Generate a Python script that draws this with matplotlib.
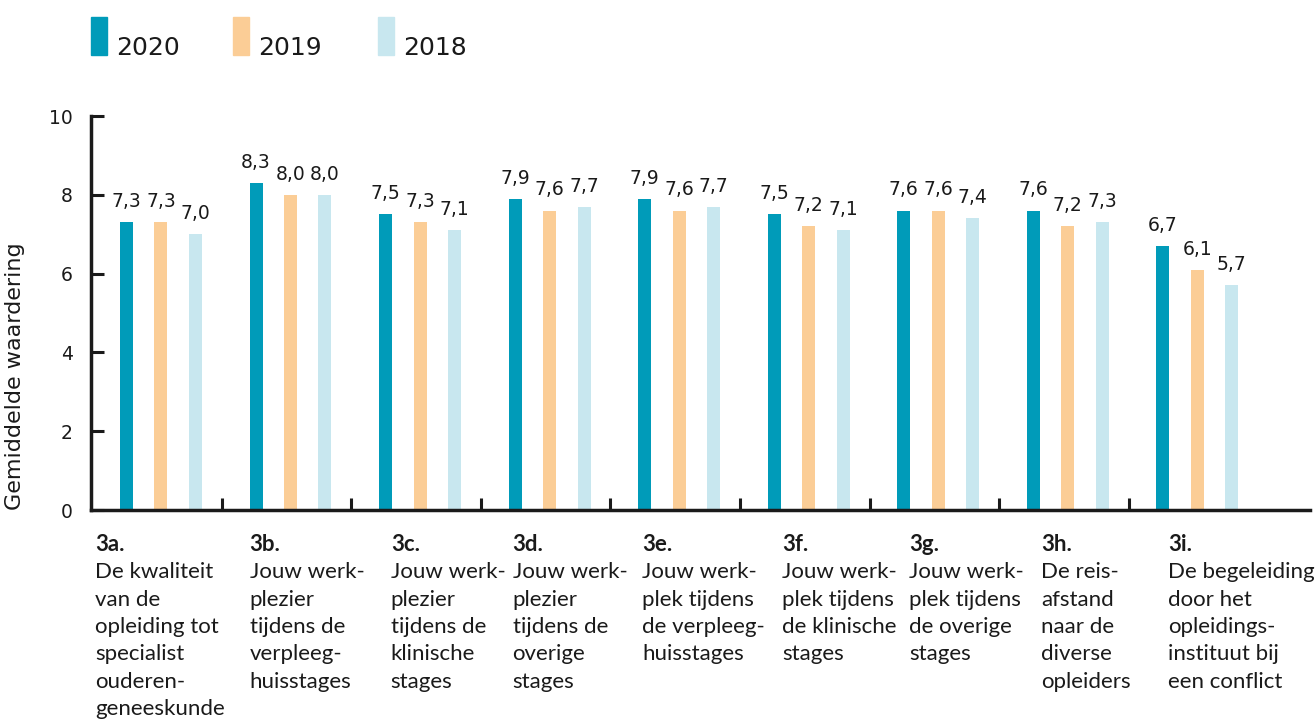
import numpy as np
import matplotlib
matplotlib.use('Agg')
import matplotlib.pyplot as plt
from matplotlib.patches import Rectangle

# data
codes = ['3a.', '3b.', '3c.', '3d.', '3e.', '3f.', '3g.', '3h.', '3i.']
descr = [
    'De kwaliteit\nvan de\nopleiding tot\nspecialist\nouderen-\ngeneeskunde',
    'Jouw werk-\nplezier\ntijdens de\nverpleeg-\nhuisstages',
    'Jouw werk-\nplezier\ntijdens de\nklinische\nstages',
    'Jouw werk-\nplezier\ntijdens de\noverige\nstages',
    'Jouw werk-\nplek tijdens\nde verpleeg-\nhuisstages',
    'Jouw werk-\nplek tijdens\nde klinische\nstages',
    'Jouw werk-\nplek tijdens\nde overige\nstages',
    'De reis-\nafstand\nnaar de\ndiverse\nopleiders',
    'De begeleiding\ndoor het\nopleidings-\ninstituut bij\neen conflict',
]
years = ['2020', '2019', '2018']
v2020 = [7.3, 8.3, 7.5, 7.9, 7.9, 7.5, 7.6, 7.6, 6.7]
v2019 = [7.3, 8.0, 7.3, 7.6, 7.6, 7.2, 7.6, 7.2, 6.1]
v2018 = [7.0, 8.0, 7.1, 7.7, 7.7, 7.1, 7.4, 7.3, 5.7]

colors = ['#009bb9', '#fbcd96', '#c8e7ef']
txt = '#1a1a1a'

W, H = 1316, 724
fig = plt.figure(figsize=(W / 100, H / 100), dpi=100)
ax = fig.add_axes([91 / W, 1 - 510 / H, (1310 - 91) / W, (510 - 116) / H])

x = np.arange(len(codes))
offs = [-0.266, 0.0, 0.266]
bw = 0.1
for k, vals in enumerate([v2020, v2019, v2018]):
    ax.bar(x + offs[k], vals, bw, color=colors[k], zorder=2)
    for xi, v in zip(x + offs[k], vals):
        ax.annotate(('%.1f' % v).replace('.', ','), (xi, v), xytext=(0, 8),
                    textcoords='offset points', ha='center', va='bottom',
                    fontsize=13.5, color=txt, family='DejaVu Sans')

ax.set_xlim(-0.54, 8.87)
ax.set_ylim(0, 10)
ax.set_yticks(range(0, 11, 2))
ax.set_xticks(x[:-1] + 0.47)
ax.set_xticklabels([])
ax.tick_params(axis='both', direction='in', length=9, width=2.2, color=txt,
               labelcolor=txt, labelsize=13.5, pad=13)
for s in ['top', 'right']:
    ax.spines[s].set_visible(False)
for s in ['left', 'bottom']:
    ax.spines[s].set_linewidth(2.5)
    ax.spines[s].set_color(txt)

ax.set_ylabel('Gemiddelde waardering', fontsize=16, color=txt)
ax.yaxis.set_label_coords(-0.054, 0.34)

# category labels below the axis
shift = [-0.19, 0.0, 0.09, 0.03, 0.03, 0.11, 0.09, 0.11, 0.09]
tr = ax.get_xaxis_transform()
for i, (c, d) in enumerate(zip(codes, descr)):
    xl = x[i] + offs[0] - bw / 2 + shift[i]
    ax.text(xl, -0.061, c, transform=tr, ha='left', va='top', fontsize=16,
            fontweight='bold', family='Lato', color=txt)
    ax.text(xl, -0.133, d, transform=tr, ha='left', va='top', fontsize=16,
            family='Lato', color=txt, linespacing=1.46)

# legend
leg_x = [91, 233, 378]
for k, yr in enumerate(years):
    fig.add_artist(Rectangle((leg_x[k] / W, 1 - 55 / H), 16 / W, 38 / H,
                             transform=fig.transFigure, color=colors[k]))
    fig.text((leg_x[k] + 25) / W, 1 - 55 / H, yr, fontsize=18, color=txt,
             ha='left', va='baseline')

fig.savefig('out.png', dpi=100)
